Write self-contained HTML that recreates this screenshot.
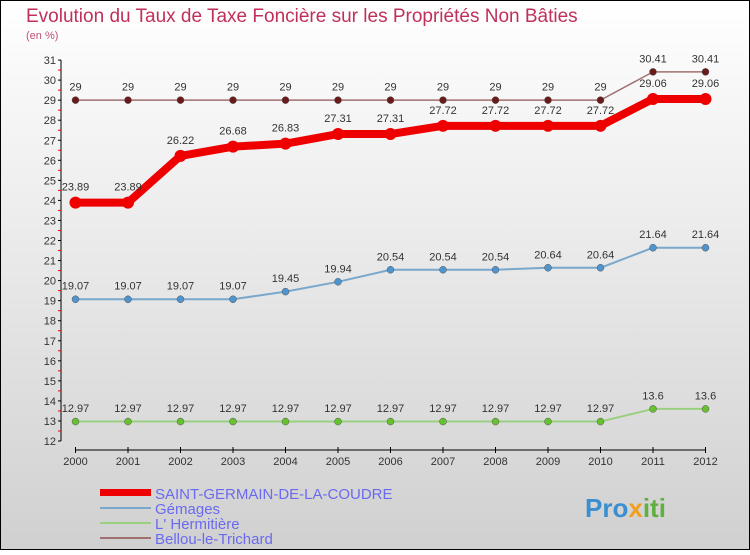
<!DOCTYPE html>
<html><head><meta charset="utf-8"><style>
body{margin:0}
#c{position:relative;width:750px;height:550px;font-family:"Liberation Sans",sans-serif}
</style></head><body>
<div id="c">
<svg width="750" height="550" xmlns="http://www.w3.org/2000/svg" id="svg">
<defs><linearGradient id="bg" x1="0" y1="0" x2="0" y2="1"><stop offset="0" stop-color="#ffffff"/><stop offset="1" stop-color="#d0d0d0"/></linearGradient></defs>
<rect x="0.5" y="0.5" width="749" height="549" fill="url(#bg)" stroke="#000"/>
<text x="26" y="22" font-size="19" fill="#c0305a">Evolution du Taux de Taxe Foncière sur les Propriétés Non Bâties</text>
<text x="26" y="39" font-size="11" fill="#c0507a">(en %)</text>
<g id="axes"></g><g id="series"></g>
<g>
<rect x="100" y="489" width="51" height="7" fill="#e00"/>
<text x="155" y="499" font-size="15" fill="#6a6af0">SAINT-GERMAIN-DE-LA-COUDRE</text>
<line x1="100" y1="508" x2="151" y2="508" stroke="#79a8cc" stroke-width="2"/>
<text x="155" y="514" font-size="15" fill="#6a6af0">Gémages</text>
<line x1="100" y1="523" x2="151" y2="523" stroke="#99d080" stroke-width="2"/>
<text x="155" y="529" font-size="15" fill="#6a6af0">L' Hermitière</text>
<line x1="100" y1="538" x2="151" y2="538" stroke="#a07070" stroke-width="2"/>
<text x="155" y="544" font-size="15" fill="#6a6af0">Bellou-le-Trichard</text>
</g>
<text x="585" y="517" font-size="26" font-weight="bold" fill="#3a8fd0">Pro<tspan fill="#f0a020">x</tspan><tspan fill="#60b040">iti</tspan></text>
</svg>
</div>
<script>
const years=[2000,2001,2002,2003,2004,2005,2006,2007,2008,2009,2010,2011,2012];
const yTicks=[12,13,14,15,16,17,18,19,20,21,22,23,24,25,26,27,28,29,30,31];
const saint=[23.89,23.89,26.22,26.68,26.83,27.31,27.31,27.72,27.72,27.72,27.72,29.06,29.06];
const gemages=[19.07,19.07,19.07,19.07,19.45,19.94,20.54,20.54,20.54,20.64,20.64,21.64,21.64];
const hermitiere=[12.97,12.97,12.97,12.97,12.97,12.97,12.97,12.97,12.97,12.97,12.97,13.6,13.6];
const bellou=[29,29,29,29,29,29,29,29,29,29,29,30.41,30.41];
const NS="http://www.w3.org/2000/svg";
const xs=i=>75.5+i*52.5;
const ys=v=>441-(v-12)*20.05;
function mk(tag,attrs,parent){const e=document.createElementNS(NS,tag);for(const k in attrs)e.setAttribute(k,attrs[k]);parent.appendChild(e);return e;}
const ax=document.getElementById('axes');
let yl=mk('line',{x1:61,y1:ys(31),x2:61,y2:ys(12),stroke:'#000'},ax);


let xl=mk('line',{x1:75,y1:450,x2:706,y2:450,stroke:'#000'},ax);


yTicks.forEach(v=>{
 mk('line',{x1:58,y1:ys(v),x2:61,y2:ys(v),stroke:'#000'},ax);
 if(v<31)mk('line',{x1:58,y1:ys(v+0.5),x2:61,y2:ys(v+0.5),stroke:'#e00'},ax);
 const t=mk('text',{x:56,y:ys(v)+4,'font-size':11,'text-anchor':'end',fill:'#333'},ax);
 t.textContent=v;
 
 
});
years.forEach((y,i)=>{
 mk('line',{x1:xs(i),y1:447,x2:xs(i),y2:453,stroke:'#000'},ax);
 const t=mk('text',{x:xs(i),y:465,'font-size':11,'text-anchor':'middle',fill:'#333'},ax);
 t.textContent=y;
 
 
});
const sg=document.getElementById('series');
function series(data,name,line,fill,lw,r,fmt){
 const g=mk('g',{},sg);
 
 
 mk('polyline',{points:data.map((v,i)=>xs(i)+','+ys(v)).join(' '),fill:'none',stroke:line,'stroke-width':lw,'stroke-linejoin':'round'},g);
 data.forEach((v,i)=>{
  const c=mk('circle',{cx:xs(i),cy:ys(v),r:r,fill:fill,stroke:line==='#e00'?'#e00':'#555','stroke-width':line==='#e00'?0:0.5},g);
  
  
  const t=mk('text',{x:xs(i),y:ys(v)-(r+6),'font-size':11,'text-anchor':'middle',fill:'#333'},g);
  t.textContent=fmt(v);
  
  
 });
}
const f=v=>String(v);
series(hermitiere,'hermitiere','#99d080','#66c030',2,3.5,f);
series(gemages,'gemages','#79a8cc','#4f94cc',2,3.5,f);
series(bellou,'bellou','#a07070','#6a1a1a',1.5,3.5,f);
series(saint,'saint-germain','#e00','#e00',8,6,f);
</script>
</body></html>
